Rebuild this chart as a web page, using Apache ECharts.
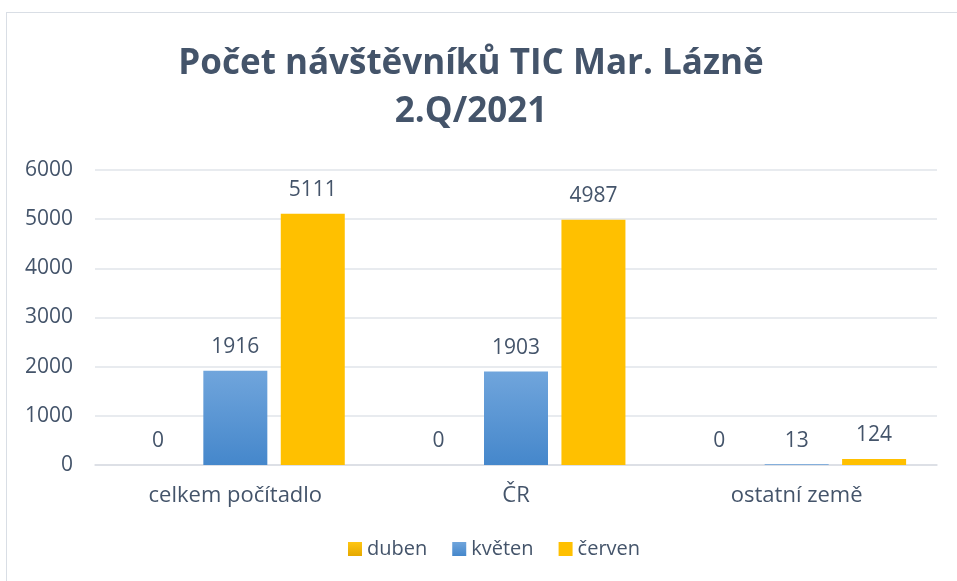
<!doctype html>
<html lang="cs">
<head>
    <meta charset="UTF-8">
    <title>Počet návštěvníků TIC</title>
    <script src="https://cdn.jsdelivr.net/npm/echarts@6/dist/echarts.min.js"></script>
    <style>
        html, body { margin: 0; padding: 0; background: #fff; }
        #frame { position: absolute; left: 6px; top: 12px; width: 960px; height: 580px; border: 1px solid #D9DEE5; box-sizing: border-box; }
        #main { position: absolute; left: 0; top: 0; width: 957px; height: 581px; }
    </style>
</head>
<body>
<div id="frame"></div>
<div id="main"></div>
<script type="text/javascript">
    // data
    var categories = ['celkem počítadlo', 'ČR', 'ostatní země'];
    var duben = [0, 0, 0];
    var kveten = [1916, 1903, 13];
    var cerven = [5111, 4987, 124];
    var yTicks = { min: 0, max: 6000, interval: 1000 };

    var txt = '#44546A';
    var font = 'Open Sans';
    var myChart = echarts.init(document.getElementById('main'));

    var labelStyle = { show: true, position: 'top', distance: 13, color: txt, fontSize: 21, fontFamily: font };

    var option = {
        animation: false,
        title: {
            text: 'Počet návštěvníků TIC Mar. Lázně\n2.Q/2021',
            left: 466,
            top: 35,
            textAlign: 'center',
            textStyle: { color: txt, fontSize: 35, fontWeight: 'bold', fontFamily: font, lineHeight: 48 }
        },
        legend: {
            bottom: 17,
            left: 343,
            itemWidth: 14,
            itemHeight: 14,
            itemGap: 25,
            icon: 'rect',
            textStyle: { color: txt, fontSize: 20, fontFamily: font },
            data: ['duben', 'květen', 'červen']
        },
        grid: { left: 95, right: 20, top: 170, bottom: 116, containLabel: false },
        xAxis: {
            type: 'category',
            data: categories,
            axisLine: { lineStyle: { color: '#D9DDE3', width: 1.5 } },
            axisTick: { show: false },
            axisLabel: { color: txt, fontSize: 22, fontFamily: font, margin: 20 }
        },
        yAxis: {
            type: 'value',
            min: yTicks.min,
            max: yTicks.max,
            interval: yTicks.interval,
            axisLine: { show: false },
            axisTick: { show: false },
            splitLine: { lineStyle: { color: '#E1E5EA', width: 1.5 } },
            axisLabel: { color: txt, fontSize: 21, fontFamily: font, margin: 22, formatter: function (v) { return String(v); } }
        },
        series: [
            {
                name: 'duben', type: 'bar', data: duben, barWidth: 64, barGap: '21%',
                itemStyle: { color: new echarts.graphic.LinearGradient(0, 0, 0, 1, [
                    { offset: 0, color: '#FFC613' }, { offset: 1, color: '#E5A800' }]) },
                label: labelStyle
            },
            {
                name: 'květen', type: 'bar', data: kveten, barWidth: 64,
                itemStyle: { color: new echarts.graphic.LinearGradient(0, 0, 0, 1, [
                    { offset: 0, color: '#70A5DC' }, { offset: 1, color: '#4587CB' }]) },
                label: labelStyle
            },
            {
                name: 'červen', type: 'bar', data: cerven, barWidth: 64,
                itemStyle: { color: '#FFC000' },
                label: labelStyle
            }
        ]
    };

    myChart.setOption(option);
</script>
</body>
</html>
